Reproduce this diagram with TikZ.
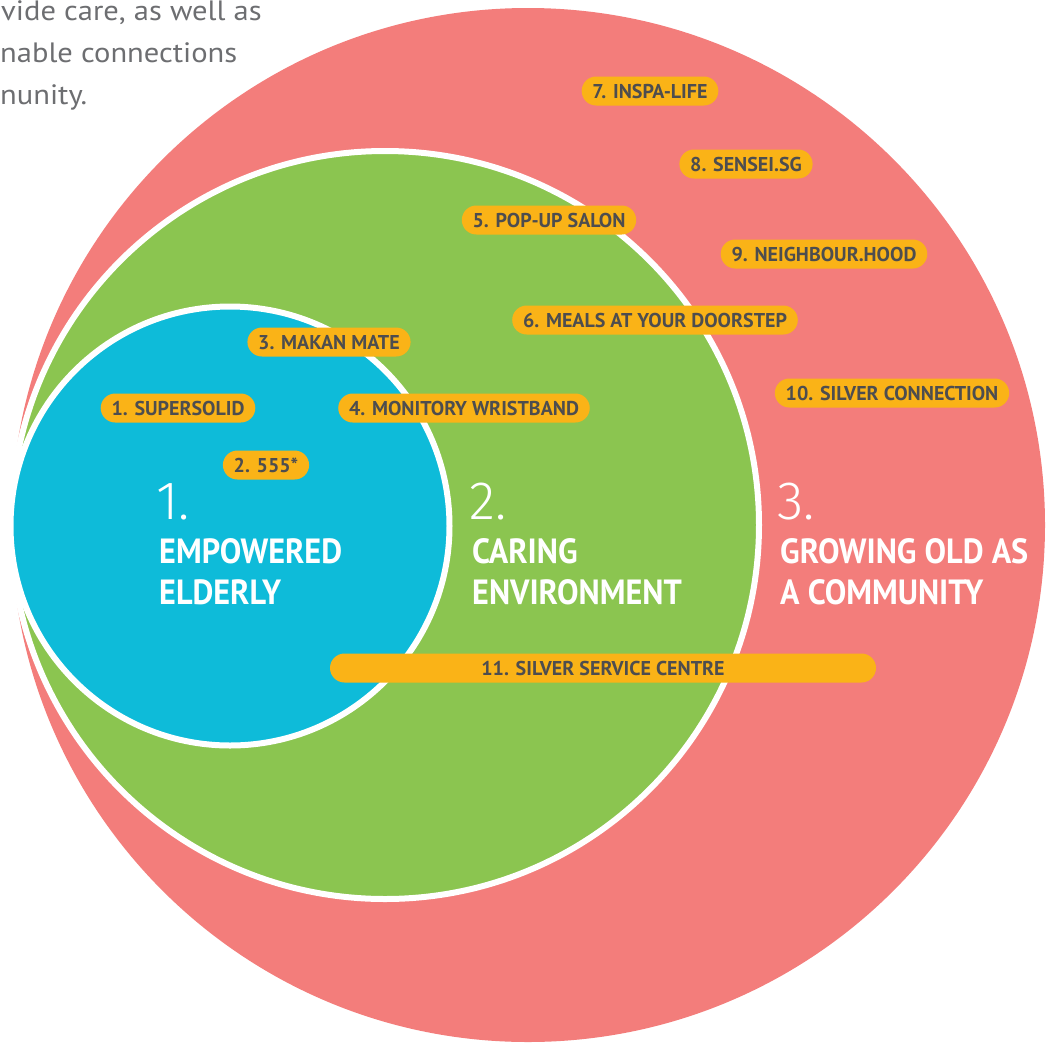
\documentclass[tikz,border=0pt]{standalone}
\usepackage{fontspec}
\setmainfont{PT Sans}
\newfontfamily\lightfont{Fira Sans Light}
\newfontfamily\titlefont{PT Sans}[FakeStretch=0.92]
\newfontfamily\introfont{PT Sans}[FakeStretch=1.09]
\usetikzlibrary{shapes.misc}

\definecolor{ringred}{HTML}{F37D7B}
\definecolor{ringgreen}{HTML}{8BC550}
\definecolor{ringblue}{HTML}{0EBBD9}
\definecolor{pillorange}{HTML}{FAB317}
\definecolor{pilltext}{HTML}{4D4D4F}
\definecolor{introgray}{HTML}{6D6E71}

\begin{document}
\begin{tikzpicture}[x=1pt,y=-1pt,
  ring/.style={draw=white, line width=6pt},
  pill/.style={rounded rectangle, fill=pillorange, minimum height=29pt,
    inner xsep=9pt, inner ysep=0pt, text height=14pt, text depth=0pt,
    text=pilltext, font=\fontsize{20}{22}\selectfont\bfseries},
  bignum/.style={anchor=base west, inner sep=0pt, text=white,
    font=\lightfont\fontsize{54}{58}\selectfont},
  bigtitle/.style={anchor=base west, inner sep=0pt, text=white,
    font=\titlefont\fontsize{35}{40}\selectfont\bfseries},
  intro/.style={anchor=base west, inner sep=0pt, text=introgray,
    font=\introfont\fontsize{28}{34}\selectfont}]

\useasboundingbox (0,0) rectangle (1053,1045);
\clip (0,0) rectangle (1053,1045);

% introductory paragraph, running off the left edge
\node[intro] (introA) at (1,20)  {vide care, as well as};
\node[intro] (introB) at (0,62)  {nable connections};
\node[intro] (introC) at (0,104) {nunity.};

% nested rings
\fill[ringred] (528,525) circle[radius=517pt];
\path[ring, fill=ringgreen] (385,525) circle[radius=374pt];
\path[ring, fill=ringblue] (230,526) circle[radius=219.5pt];

% ring headings
\node[bignum]   (numA)   at (156,519) {1.};
\node[bigtitle] (titA1)  at (159,563) {EMPOWERED};
\node[bigtitle] (titA2)  at (159,604) {ELDERLY};

\node[bignum]   (numB)   at (469,519) {2.};
\node[bigtitle] (titB1)  at (472,563) {CARING};
\node[bigtitle] (titB2)  at (472,604) {ENVIRONMENT};

\node[bignum]   (numC)   at (777,519) {3.};
\node[bigtitle] (titC1)  at (780,563) {GROWING OLD AS};
\node[bigtitle] (titC2)  at (780,604) {A COMMUNITY};

% initiatives
\node[pill] (p1)  at (178,408) {1. SUPERSOLID};
\node[pill] (p2)  at (266,465) {2. 555*};
\node[pill] (p3)  at (329,342) {3. MAKAN MATE};
\node[pill] (p4)  at (464,408) {4. MONITORY WRISTBAND};
\node[pill] (p5)  at (549,220) {5. POP-UP SALON};
\node[pill] (p6)  at (655,320) {6. MEALS AT YOUR DOORSTEP};
\node[pill] (p7)  at (650,91)  {7. INSPA-LIFE};
\node[pill] (p8)  at (746,164) {8. SENSEI.SG};
\node[pill] (p9)  at (824,254) {9. NEIGHBOUR.HOOD};
\node[pill] (p10) at (892,393) {10. SILVER CONNECTION};
\node[pill, minimum width=564pt] (p11) at (603,668) {11. SILVER SERVICE CENTRE};
\end{tikzpicture}
\end{document}
